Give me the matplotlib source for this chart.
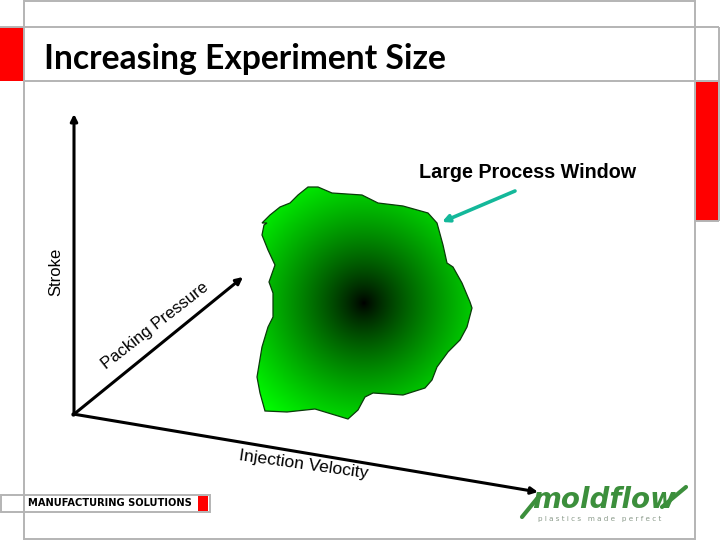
import numpy as np
import matplotlib
matplotlib.use('Agg')
import matplotlib.pyplot as plt
from matplotlib.patches import Polygon, Rectangle

# everything is laid out in image pixels
title = 'Increasing Experiment Size'
window_label = 'Large Process Window'
x_label = 'Injection Velocity'
y_label = 'Stroke'
z_label = 'Packing Pressure'
footer = 'MANUFACTURING SOLUTIONS'

blob_x = [262, 270, 280, 290, 298, 308, 318, 332, 362, 378, 403, 428, 437, 443, 447, 453,
          462, 470, 472, 467, 460, 448, 437, 432, 425, 403, 373, 365, 358, 348, 315, 287,
          265, 260, 257, 262, 268, 273, 273, 269, 275, 268, 262, 264, 267]
blob_y = [223, 215, 207, 203, 195, 187, 187, 193, 195, 203, 206, 213, 223, 245, 263, 267,
          283, 302, 308, 327, 340, 352, 367, 380, 388, 395, 393, 397, 410, 419, 409, 412,
          411, 393, 377, 347, 327, 317, 293, 282, 265, 250, 235, 225, 223]
blob_center = (364, 303)

fig = plt.figure(figsize=(7.2, 5.4), dpi=100)
ax = fig.add_axes([0, 0, 1, 1])
ax.set_xlim(0, 720)
ax.set_ylim(540, 0)
ax.axis('off')

gray = '#b4b4b4'
# slide frame
for x0, x1, y0, y1 in [(24, 24, 0, 540), (695, 695, 0, 540), (24, 695, 0.5, 0.5),
                       (0, 24, 27, 27), (24, 719, 27, 27), (24, 719, 81, 81),
                       (24, 695, 539, 539), (719, 719, 27, 221), (695, 719, 221, 221)]:
    ax.plot([x0, x1], [y0, y1], color=gray, lw=1.4, solid_capstyle='butt')
ax.add_patch(Rectangle((0, 27), 24, 54, fc='#ff0000', ec='none'))
ax.add_patch(Rectangle((696, 82), 22, 139, fc='#ff0000', ec='none'))

ax.text(44, 59, title, fontsize=24.2, fontweight='bold', family='Lato',
        va='center', ha='left', color='black')

# footer tag
ax.add_patch(Rectangle((0.5, 495), 209, 17, fc='white', ec=gray, lw=1.4))
ax.plot([24, 24], [495, 512], color=gray, lw=1.4)
ax.add_patch(Rectangle((198, 496), 10, 15, fc='#ff0000', ec='none'))
ax.text(28, 503.5, footer, fontsize=7.1, fontweight='bold', family='DejaVu Sans',
        va='center', ha='left', color='black')

# axes of the sketch
head = dict(arrowstyle='-|>,head_width=0.2,head_length=0.4', color='black', lw=2.2, shrinkA=0, shrinkB=0)
ax.annotate('', xy=(243, 277), xytext=(73, 415), arrowprops=head)
ax.annotate('', xy=(74, 114), xytext=(74, 415), arrowprops=head)
ax.annotate('', xy=(538, 492), xytext=(73, 414), arrowprops=head)

ax.text(56, 272, y_label, rotation=90, fontsize=12, family='Liberation Sans',
        va='center', ha='center', color='black')
ax.text(155, 326, z_label, rotation=38, rotation_mode='anchor', fontsize=12,
        family='Liberation Sans', va='center', ha='center', color='black')
ax.text(304, 465, x_label, rotation=-8, rotation_mode='anchor', fontsize=12.6,
        family='Liberation Sans', va='center', ha='center', color='black')
ax.text(528, 172, window_label, fontsize=14.2, fontweight='bold', family='Liberation Sans',
        va='center', ha='center', color='black')

# radial gradient clipped to the blob
xx, yy = np.meshgrid(np.arange(240, 490), np.arange(170, 430))
r = np.hypot(xx + 0.5 - blob_center[0], yy + 0.5 - blob_center[1])
t = np.clip(r / 145.0, 0, 1)
rgb = np.zeros(xx.shape + (3,))
rgb[..., 1] = t ** 0.8
im = ax.imshow(rgb, extent=(240, 490, 430, 170), interpolation='bilinear', zorder=2, aspect='auto')
blob = Polygon(np.column_stack([blob_x, blob_y]), closed=True, fc='none', ec='#0a3a0a', lw=0.9, zorder=3)
ax.add_patch(blob)
im.set_clip_path(blob)
ax.set_xlim(0, 720)
ax.set_ylim(540, 0)

# teal pointer
ax.annotate('', xy=(442, 222), xytext=(515, 191),
            arrowprops=dict(arrowstyle='-|>,head_width=0.2,head_length=0.4', color='#14b89a', lw=2.6, shrinkA=0, shrinkB=0))

# logo
logo_green = '#3c8f3c'
ax.text(604, 508, 'moldflow', fontsize=20, fontweight='bold', style='italic',
        family='DejaVu Sans', color=logo_green, va='baseline', ha='center')
ax.plot([522, 540], [517, 495], color=logo_green, lw=3, solid_capstyle='round')
ax.plot([662, 686], [507, 487], color=logo_green, lw=3, solid_capstyle='round')
ax.text(600, 519, 'p l a s t i c s   m a d e   p e r f e c t', fontsize=5.2, color='#8a9a8a',
        family='DejaVu Sans', va='center', ha='center')

fig.savefig('out.png', dpi=100)
